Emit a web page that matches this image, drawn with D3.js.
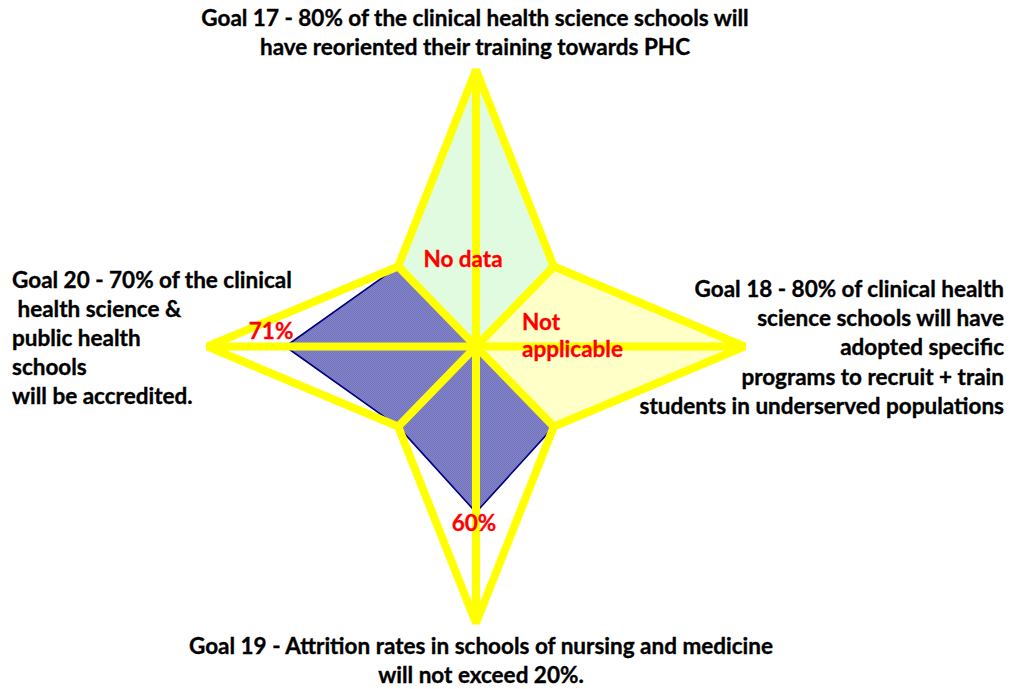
<!DOCTYPE html>
<html>
<head>
<meta charset="utf-8">
<script src="https://cdn.jsdelivr.net/npm/d3@7"></script>
<style>
  html, body { margin: 0; padding: 0; background: #ffffff; }
  svg text { font-family: Lato, "Open Sans", sans-serif; font-weight: bold; white-space: pre; }
</style>
</head>
<body>
<svg id="chart" width="1020" height="689"></svg>
<script>
// Eight radial axes, clockwise from the top: four goals with unlabeled axes between them
const axes = ["Goal 17", "", "Goal 18", "", "Goal 19", "", "Goal 20", ""];

// Star-shaped target outline
const targetFrame = [100, 41, 100, 41, 100, 41, 100, 41];
// Goal 17 region with no data available
const noDataArea = [100, 41, 0, 0, 0, 0, 0, 41];
// Goal 18 region that does not apply
const notApplicableArea = [0, 41, 100, 41, 0, 0, 0, 0];
// Achieved levels (Goal 19 = 60%, Goal 20 = 71%)
const achieved = [0, 0, 0, 41, 60, 41, 71, 41];

const goal17Lines = ["Goal 17 - 80% of the clinical health science schools will",
                     "have reoriented their training towards PHC"];
const goal18Lines = ["Goal 18 - 80% of clinical health",
                     "science schools will have",
                     "adopted specific",
                     "programs to recruit + train",
                     "students in underserved populations"];
const goal19Lines = ["Goal 19 - Attrition rates in schools of nursing and medicine",
                     "will not exceed 20%."];
const goal20Lines = ["Goal 20 - 70% of the clinical",
                     " health science &",
                     "public health",
                     "schools",
                     "will be accredited."];

const svg = d3.select("#chart");
const cx = 476, cy = 346.5;
const RX = 268.5, RY = 276.5;

const angle = d3.scalePoint().domain(d3.range(axes.length)).range([0, 2 * Math.PI * (axes.length - 1) / axes.length]);
const radius = d3.scaleLinear().domain([0, 100]).range([0, 1]);

function pt(i, v) {
  const a = angle(i), r = radius(v);
  return [cx + Math.sin(a) * r * RX, cy - Math.cos(a) * r * RY];
}
const polyLine = d3.line().curve(d3.curveLinearClosed);
const polyPoints = vals => vals.map((v, i) => pt(i, v));

// Filled areas
svg.append("path")
  .attr("d", polyLine(polyPoints(noDataArea)))
  .attr("fill", "#e0fbe0");
svg.append("path")
  .attr("d", polyLine(polyPoints(notApplicableArea)))
  .attr("fill", "#ffffc8");

const defs = svg.append("defs");
const pat = defs.append("pattern")
  .attr("id", "achievedFill")
  .attr("width", 2).attr("height", 2)
  .attr("patternUnits", "userSpaceOnUse");
pat.append("rect").attr("width", 2).attr("height", 2).attr("fill", "#8585cb");
pat.append("rect").attr("width", 1).attr("height", 1).attr("fill", "#7272bb");
pat.append("rect").attr("x", 1).attr("y", 1).attr("width", 1).attr("height", 1).attr("fill", "#7272bb");

svg.append("path")
  .attr("d", polyLine(polyPoints(achieved)))
  .attr("fill", "url(#achievedFill)")
  .attr("stroke", "#000080")
  .attr("stroke-width", 1.6)
  .attr("stroke-linejoin", "round");

// Spokes from the centre to every outline vertex
svg.append("g")
  .selectAll("line")
  .data(targetFrame)
  .join("line")
  .attr("x1", cx).attr("y1", cy)
  .attr("x2", (v, i) => pt(i, v)[0])
  .attr("y2", (v, i) => pt(i, v)[1])
  .attr("stroke", "#ffff00")
  .attr("stroke-width", 8);

// Target outline
svg.append("path")
  .attr("d", polyLine(polyPoints(targetFrame)))
  .attr("fill", "none")
  .attr("stroke", "#ffff00")
  .attr("stroke-width", 8)
  .attr("stroke-linejoin", "miter")
  .attr("stroke-miterlimit", 1.5);

// Goal descriptions
function block(lines, x, y0, step, anchor) {
  svg.append("text")
    .attr("text-anchor", anchor)
    .attr("font-size", 22.5)
    .attr("fill", "#000000")
    .attr("stroke", "#000000")
    .attr("stroke-width", 0.35)
    .selectAll("tspan")
    .data(lines)
    .join("tspan")
    .attr("x", x)
    .attr("y", (d, i) => y0 + i * step)
    .text(d => d);
}
block(goal17Lines, 475, 26, 29, "middle");
block(goal18Lines, 1004, 297, 29.2, "end");
block(goal19Lines, 481, 654, 29, "middle");
block(goal20Lines, 12, 288, 29.1, "start");

// Value annotations in red
const red = "#ff0000";
function redText(sel) {
  return sel.attr("fill", red).attr("stroke", red).attr("stroke-width", 0.3);
}
redText(svg.append("text").attr("x", 463).attr("y", 267)
  .attr("text-anchor", "middle").attr("font-size", 22.5)).text("No data");
redText(svg.append("text").attr("font-size", 22.5))
  .selectAll("tspan").data(["Not", "applicable"]).join("tspan")
  .attr("x", 522).attr("y", (d, i) => 330 + i * 27).text(d => d);
const p20 = pt(6, achieved[6]);
redText(svg.append("text").attr("x", p20[0] + 8).attr("y", p20[1] - 8)
  .attr("text-anchor", "end").attr("font-size", 22.5)).text(achieved[6] + "%");
const p19 = pt(4, achieved[4]);
redText(svg.append("text").attr("x", p19[0] - 2).attr("y", p19[1] + 19)
  .attr("text-anchor", "middle").attr("font-size", 22.5)).text(achieved[4] + "%");
</script>
</body>
</html>
